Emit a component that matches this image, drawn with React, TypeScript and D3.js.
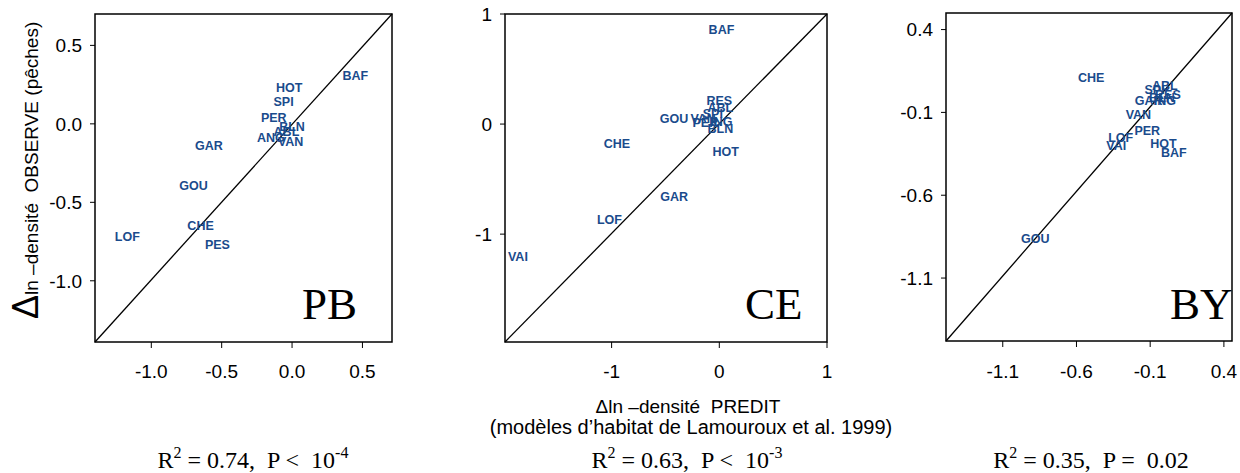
import React from "react";
import * as d3 from "d3";

// ---------- data ----------
const pbSites = ["BAF", "HOT", "SPI", "PER", "BLN", "ABL", "ANG", "VAN", "GAR", "GOU", "CHE", "PES", "LOF"];
const pbPred = [0.45, -0.02, -0.06, -0.13, 0.0, -0.04, -0.15, -0.01, -0.59, -0.7, -0.65, -0.53, -1.17];
const pbObs = [0.31, 0.23, 0.14, 0.04, -0.02, -0.05, -0.09, -0.11, -0.14, -0.39, -0.65, -0.77, -0.72];

const ceSites = ["BAF", "RES", "ABL", "SPI", "GOU", "VAN", "PER", "ING", "BLN", "HOT", "CHE", "GAR", "LOF", "VAI"];
const cePred = [0.02, 0.0, 0.01, -0.06, -0.42, -0.15, -0.13, 0.02, 0.01, 0.06, -0.95, -0.42, -1.02, -1.87];
const ceObs = [0.86, 0.21, 0.15, 0.1, 0.05, 0.05, 0.01, 0.02, -0.04, -0.25, -0.18, -0.66, -0.87, -1.2];

const bySites = ["CHE", "ABL", "SPI", "RES", "BLN", "GAR", "ING", "VAN", "PER", "LOF", "VAI", "HOT", "BAF", "GOU"];
const byPred = [-0.5, 0.0, -0.07, 0.02, -0.02, -0.11, 0.0, -0.18, -0.12, -0.3, -0.33, -0.01, 0.06, -0.88];
const byObs = [0.11, 0.06, 0.04, 0.01, -0.01, -0.03, -0.03, -0.11, -0.21, -0.25, -0.3, -0.29, -0.34, -0.86];

const pbTicks = [-1.0, -0.5, 0.0, 0.5];
const ceTicks = [-1, 0, 1];
const byTicks = [-1.1, -0.6, -0.1, 0.4];

const panelNames = ["PB", "CE", "BY"];
const r2Values = ["0.74", "0.63", "0.35"];
const pSigns = ["<", "<", "="];
const pValues = ["10", "10", "0.02"];
const pExps = ["-4", "-3", ""];

// ---------- layout ----------
const W = 1240;
const H = 473;
const BLUE = "#1a4b8c";
const SANS = "'Liberation Sans', Arial, sans-serif";
const SERIF = "'Liberation Serif', 'Times New Roman', serif";

const panels = [
  {
    name: panelNames[0], sites: pbSites, pred: pbPred, obs: pbObs, ticks: pbTicks,
    fmt: (v: number) => v.toFixed(1),
    xDom: [-1.4, 0.71], yDom: [-1.39, 0.7],
    box: { l: 95, r: 392, t: 14, b: 342 }, nameX: 302, r2X: 253,
  },
  {
    name: panelNames[1], sites: ceSites, pred: cePred, obs: ceObs, ticks: ceTicks,
    fmt: (v: number) => String(v),
    xDom: [-1.99, 1.0], yDom: [-1.98, 1.0],
    box: { l: 505, r: 827, t: 14, b: 342 }, nameX: 745, r2X: 687,
  },
  {
    name: panelNames[2], sites: bySites, pred: byPred, obs: byObs, ticks: byTicks,
    fmt: (v: number) => v.toFixed(1),
    xDom: [-1.485, 0.455], yDom: [-1.48, 0.5],
    box: { l: 946, r: 1232, t: 13, b: 341 }, nameX: 1170, r2X: 1091,
  },
];

function Panel({ p, i }: { p: any; i: number }) {
  const x = d3.scaleLinear().domain(p.xDom).range([p.box.l, p.box.r]);
  const y = d3.scaleLinear().domain(p.yDom).range([p.box.b, p.box.t]);
  const pts = p.sites.map((s: string, k: number) => ({ s, px: p.pred[k], py: p.obs[k] }));
  const diag = d3.line<[number, number]>()
    .x((d) => x(d[0]))
    .y((d) => y(d[1]))([
      [p.xDom[0], p.yDom[0]],
      [p.xDom[1], p.yDom[1]],
    ]);
  return (
    <g>
      <rect x={p.box.l} y={p.box.t} width={p.box.r - p.box.l} height={p.box.b - p.box.t}
        fill="none" stroke="#000" strokeWidth={1.5} />
      <path d={diag || ""} stroke="#000" strokeWidth={1.3} fill="none" />
      {p.ticks.map((t: number) => (
        <g key={"x" + t}>
          <line x1={x(t)} x2={x(t)} y1={p.box.b} y2={p.box.b + 6} stroke="#000" strokeWidth={1} />
          <text x={x(t)} y={378} textAnchor="middle" fontFamily={SANS} fontSize={19} fill="#000">
            {p.fmt(t)}
          </text>
        </g>
      ))}
      {p.ticks.map((t: number) => (
        <g key={"y" + t}>
          <line x1={p.box.l - 5} x2={p.box.l} y1={y(t)} y2={y(t)} stroke="#000" strokeWidth={1} />
          <text x={p.box.l - 13} y={y(t)} dy="0.36em" textAnchor="end" fontFamily={SANS} fontSize={19} fill="#000">
            {p.fmt(t)}
          </text>
        </g>
      ))}
      {pts.map((d: any, k: number) => (
        <text key={k} x={x(d.px)} y={y(d.py)} dy="0.36em" textAnchor="middle"
          fontFamily={SANS} fontWeight="bold" fontSize={12.5} fill={BLUE}>
          {d.s}
        </text>
      ))}
      <text x={p.nameX} y={319} fontFamily={SERIF} fontSize={45} fill="#000">{p.name}</text>
      <text x={p.r2X} y={468} textAnchor="middle" fontFamily={SERIF} fontSize={24} fill="#000"
        style={{ whiteSpace: "pre" }}>
        R<tspan dy={-10} fontSize={16}>2</tspan>
        <tspan dy={10}>{` = ${r2Values[i]},  P ${pSigns[i]}  ${pValues[i]}`}</tspan>
        {pExps[i] ? <tspan dy={-10} fontSize={16}>{pExps[i]}</tspan> : null}
      </text>
    </g>
  );
}

export default function App() {
  return (
    <svg width={W} height={H} viewBox={`0 0 ${W} ${H}`}
      style={{ position: "absolute", left: 0, top: 0, background: "#fff" }}>
      <rect width={W} height={H} fill="#fff" />
      {panels.map((p, i) => (
        <Panel key={p.name} p={p} i={i} />
      ))}
      <text transform="translate(38,319) rotate(-90)" fontFamily={SANS} fill="#000" style={{ whiteSpace: "pre" }}>
        <tspan fontSize={36}>Δ</tspan>
        <tspan fontSize={19}>{"ln –densité  OBSERVE (pêches)"}</tspan>
      </text>
      <text x={688} y={413} textAnchor="middle" fontFamily={SANS} fontSize={19} fill="#000" style={{ whiteSpace: "pre" }}>
        {"Δln –densité  PREDIT"}
      </text>
      <text x={691} y={434} textAnchor="middle" fontFamily={SANS} fontSize={20} fill="#000">
        {"(modèles d’habitat de Lamouroux et al. 1999)"}
      </text>
    </svg>
  );
}
